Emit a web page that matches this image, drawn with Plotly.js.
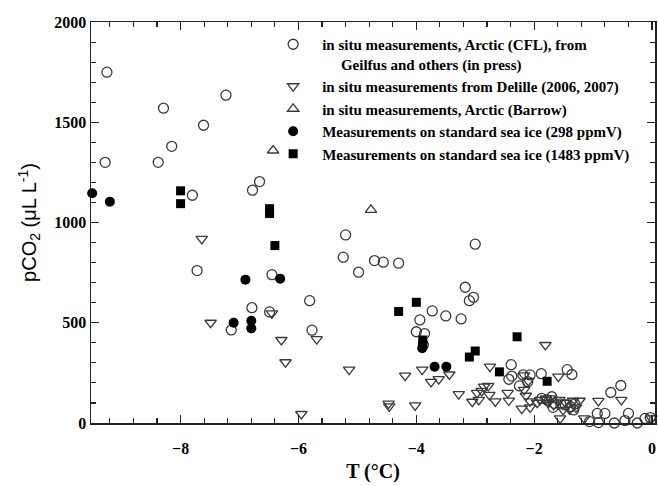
<!DOCTYPE html>
<html>
<head>
<meta charset="utf-8">
<script src="https://cdn.plot.ly/plotly-3.0.1.min.js"></script>
<style>html,body{margin:0;padding:0;background:#fff;}#chart{width:658px;height:486px;}</style>
</head>
<body>
<div id="chart"></div>
<script>
// In situ measurements, Arctic (CFL), Geilfus and others
const cflT = [-9.25,-9.28,-8.29,-8.38,-8.15,-7.61,-7.23,-7.80,-6.78,-6.66,-7.72,-7.14,-6.79,-6.45,-6.49,-5.81,-5.77,-5.20,-5.24,-4.98,-4.71,-4.56,-4.30,-3.00,-3.17,-3.10,-3.03,-3.73,-3.94,-3.50,-3.24,-4.00,-3.86,-3.88,-2.39,-2.43,-2.38,-2.19,-2.07,-2.11,-2.25,-1.88,-1.44,-1.36,-1.87,-1.78,-1.70,-1.66,-1.55,-1.47,-1.38,-1.33,-1.31,-1.68,-1.06,-0.93,-0.80,-0.91,-0.70,-0.53,-0.64,-0.46,-0.40,-0.25,-0.12,-0.03];
const cflP = [1750,1300,1570,1300,1380,1485,1635,1136,1161,1204,760,464,575,740,554,610,463,938,827,752,810,802,797,892,677,610,627,559,514,534,519,455,446,390,291,218,234,240,240,206,185,246,266,242,123,115,131,98,95,90,81,65,95,78,7,48,48,2,152,187,0,12,48,0,23,27];
// In situ measurements from Delille (2006, 2007)
const delT = [-7.64,-7.49,-6.45,-6.29,-6.22,-5.95,-5.69,-5.14,-4.19,-3.90,-3.75,-3.62,-3.44,-4.47,-4.46,-4.02,-3.28,-3.05,-2.94,-2.97,-2.89,-2.85,-2.78,-2.76,-2.75,-2.66,-2.45,-2.43,-2.21,-2.07,-2.17,-2.14,-2.10,-2.17,-2.07,-1.95,-1.90,-1.80,-1.76,-1.81,-1.59,-1.81,-1.73,-1.57,-1.47,-1.34,-1.23,-1.40,-1.51,-1.56,-1.29,-1.15,-0.91,-0.52,-0.01,-1.67];
const delP = [918,500,547,414,303,45,418,266,236,266,205,219,242,97,83,88,144,106,115,150,160,181,185,140,281,108,150,112,72,78,165,136,210,238,108,101,115,123,101,389,231,115,123,115,101,111,111,68,65,23,78,23,110,115,23,90];
// In situ measurements, Arctic (Barrow)
const barT = [-6.43,-4.77];
const barP = [1359,1063];
// Standard sea ice (298 ppmV)
const s298T = [-9.50,-9.20,-6.90,-7.10,-6.80,-6.80,-6.31,-3.90,-3.69,-3.49];
const s298P = [1146,1104,715,500,510,472,720,373,281,281];
// Standard sea ice (1483 ppmV)
const s1483T = [-8.00,-8.00,-6.49,-6.49,-6.40,-4.30,-4.00,-3.89,-3.89,-3.10,-3.00,-2.59,-2.29,-1.78];
const s1483P = [1158,1094,1069,1045,885,556,602,414,392,329,359,255,430,208];

const names = [
  "in situ measurements, Arctic (CFL), from<br>\u00a0\u00a0\u00a0\u00a0\u00a0Geilfus and others (in press)",
  "in situ measurements from Delille (2006, 2007)",
  "in situ measurements, Arctic (Barrow)",
  "Measurements on standard sea ice (298 ppmV)",
  "Measurements on standard sea ice (1483 ppmV)"
];

const grey = '#3a3a3a';
const openLine = {color: grey, width: 1.3};
const traces = [
  {x: cflT, y: cflP, name: names[0], mode: 'markers', type: 'scatter', cliponaxis: false,
   marker: {symbol: 'circle-open', size: 10, color: grey, line: openLine}},
  {x: delT, y: delP, name: names[1], mode: 'markers', type: 'scatter', cliponaxis: false,
   marker: {symbol: 'triangle-down-open', size: 10, color: grey, line: openLine}},
  {x: barT, y: barP, name: names[2], mode: 'markers', type: 'scatter', cliponaxis: false,
   marker: {symbol: 'triangle-up-open', size: 10, color: grey, line: openLine}},
  {x: s298T, y: s298P, name: names[3], mode: 'markers', type: 'scatter', cliponaxis: false,
   marker: {symbol: 'circle', size: 10, color: '#000'}},
  {x: s1483T, y: s1483P, name: names[4], mode: 'markers', type: 'scatter', cliponaxis: false,
   marker: {symbol: 'square', size: 9, color: '#000'}}
];

const serif = 'Liberation Serif, Times New Roman, serif';
const axisCommon = {
  showgrid: false, zeroline: false, showline: true, linecolor: '#222', linewidth: 1.5,
  mirror: 'allticks', ticks: 'inside', ticklen: 8, tickwidth: 1.3, tickcolor: '#222',
  tickfont: {family: serif, size: 16, color: '#000', weight: 'bold'}
};

const layout = {
  width: 658, height: 486,
  margin: {l: 91, r: 3, t: 22, b: 63},
  paper_bgcolor: '#fff', plot_bgcolor: '#fff',
  showlegend: true,
  xaxis: Object.assign({}, axisCommon, {
    range: [-9.52, 0.05], tickvals: [-8, -6, -4, -2, 0],
    ticklabelstandoff: 10,
    minor: {dtick: 0.4, tick0: 0, ticks: 'inside', ticklen: 5, tickcolor: '#222', tickwidth: 1.1},
    title: {text: 'T (°C)', font: {family: serif, size: 20, color: '#000', weight: 'bold'}, standoff: 8}
  }),
  yaxis: Object.assign({}, axisCommon, {
    range: [0, 2000], tickvals: [0, 500, 1000, 1500, 2000],
    minor: {dtick: 100, ticks: 'inside', ticklen: 5, tickcolor: '#222', tickwidth: 1.1},
    title: {text: 'pCO<sub>2</sub> (μL L<sup>-1</sup>)', font: {family: 'Liberation Sans, Arial, sans-serif', size: 20, color: '#000'}, standoff: 12}
  }),
  legend: {
    x: 0.307, y: 0.985, xanchor: 'left', yanchor: 'top',
    bgcolor: 'rgba(0,0,0,0)', borderwidth: 0, itemwidth: 48, valign: 'top',
    font: {family: serif, size: 15, color: '#000', weight: 'bold'},
    tracegroupgap: 0
  }
};

Plotly.newPlot('chart', traces, layout, {staticPlot: true, displayModeBar: false});
</script>
</body>
</html>
